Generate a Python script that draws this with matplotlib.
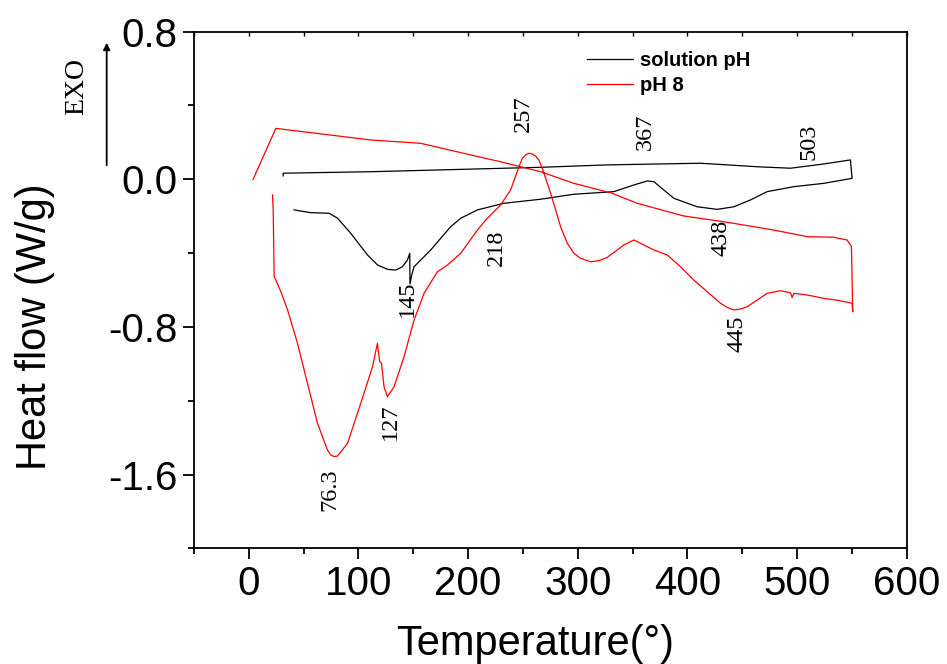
import matplotlib
matplotlib.use("Agg")
import matplotlib.pyplot as plt
from matplotlib.ticker import MultipleLocator

plt.rcParams['axes.unicode_minus'] = False

# ---- data ----
# solution pH (black): lower (heating) trace, then vertical at 550, then upper trace back
sol_T = [41.3, 56.5, 73.2, 80.9, 93.0, 108.2, 117.3, 126.4, 134.0, 140.1, 144.7, 146.8,
         147.0, 148.6, 150.7, 165.9, 184.1, 193.3, 208.5, 232.7, 266.2, 296.5, 333.0,
         351.2, 363.4, 369.5, 378.6, 387.7, 409.0, 427.3, 442.4, 457.6, 472.8, 497.1,
         524.4, 550.3, 548.8, 524.4, 494.1, 463.7, 412.0, 327.0, 266.2, 111.2, 31.3, 31.3]
sol_H = [-0.166, -0.181, -0.184, -0.211, -0.293, -0.410, -0.464, -0.488, -0.492, -0.474,
         -0.437, -0.401, -0.567, -0.519, -0.474, -0.383, -0.257, -0.211, -0.166, -0.130,
         -0.108, -0.081, -0.067, -0.031, -0.009, -0.013, -0.058, -0.103, -0.149, -0.163,
         -0.149, -0.112, -0.067, -0.040, -0.022, 0.005, 0.105, 0.083, 0.060, 0.068, 0.087,
         0.078, 0.065, 0.041, 0.033, 0.018]

# pH 8 (red): upper trace, vertical at 550, lower trace back to start
ph8_T = [3.9, 24.6, 111.2, 156.8, 202.4, 229.7, 266.2, 296.5, 330.0, 354.3, 396.8, 433.3,
         478.9, 509.3, 533.5, 545.8, 549.7, 550.9,
         550.3, 539.6, 524.4, 509.3, 497.1, 495.6, 494.1, 485.0, 472.8, 454.6, 448.5, 442.4,
         436.4, 430.3, 418.1, 405.9, 393.8, 381.7, 369.5, 363.4, 357.3, 351.2, 342.1, 327.0,
         319.4, 311.8, 302.6, 296.5, 290.5, 284.4, 279.9, 275.3, 269.2, 266.8, 264.6, 261.6,
         258.6, 255.5, 252.5, 249.5, 246.4, 238.8, 229.7, 217.6, 208.5, 193.3, 181.1, 172.0,
         159.8, 150.7, 141.6, 132.5, 126.4, 123.3, 121.0, 119.4, 117.3, 112.8, 102.1, 90.0,
         80.9, 77.8, 74.7, 71.7, 62.6, 53.5, 44.4, 35.3, 29.2, 24.6, 23.1, 22.2, 21.6]
ph8_H = [0.000, 0.276, 0.213, 0.195, 0.132, 0.095, 0.041, -0.022, -0.073, -0.130, -0.199,
         -0.230, -0.275, -0.311, -0.314, -0.329, -0.365, -0.718,
         -0.672, -0.658, -0.645, -0.627, -0.618, -0.640, -0.615, -0.604, -0.618, -0.691,
         -0.703, -0.708, -0.694, -0.672, -0.609, -0.546, -0.474, -0.410, -0.383, -0.365,
         -0.347, -0.329, -0.356, -0.423, -0.441, -0.447, -0.428, -0.401, -0.347, -0.257,
         -0.166, -0.076, 0.033, 0.072, 0.105, 0.126, 0.137, 0.141, 0.132, 0.114, 0.068,
         -0.058, -0.139, -0.211, -0.275, -0.401, -0.465, -0.501, -0.618, -0.763, -0.961,
         -1.124, -1.178, -1.124, -0.997, -0.989, -0.889, -1.016, -1.214, -1.431, -1.500,
         -1.503, -1.494, -1.467, -1.322, -1.106, -0.889, -0.708, -0.609, -0.546, -0.528,
         -0.166, -0.085]

# peak annotations: (text, x, y)
peak_labels = ["76.3", "127", "145", "218", "257", "367", "438", "445", "503"]
peak_x = [74.1, 128.8, 144.6, 226.1, 250.7, 361.9, 430.3, 445.5, 510.8]
peak_y = [-1.684, -1.314, -0.645, -0.374, 0.358, 0.258, -0.320, -0.835, 0.204]

x_ticks = [0, 100, 200, 300, 400, 500, 600]
y_ticks = [-1.6, -0.8, 0.0, 0.8]
y_tick_labels = ["-1.6", "-0.8", "0.0", "0.8"]

# ---- figure ----
fig = plt.figure(figsize=(9.47, 6.64), dpi=100)
ax = fig.add_axes([0.2049, 0.1742, 0.7524, 0.7781])

ax.plot(sol_T, sol_H, color="black", lw=0.9, label="solution pH")
ax.plot(ph8_T, ph8_H, color="red", lw=0.9, label="pH 8")

ax.set_xlim(-50, 600)
ax.set_ylim(-2.0, 0.8)

sans = "Liberation Sans"
serif = "Liberation Serif"

ax.set_xticks(x_ticks)
ax.set_xticklabels([str(t) for t in x_ticks], fontfamily=sans, fontsize=29)
ax.set_yticks(y_ticks)
ax.set_yticklabels(y_tick_labels, fontfamily=sans, fontsize=29)
ax.xaxis.set_minor_locator(MultipleLocator(50))
ax.yaxis.set_minor_locator(MultipleLocator(0.4))

ax.tick_params(which="major", direction="out", length=8, width=1.3, pad=4)
ax.tick_params(which="minor", direction="out", length=4, width=1.3)
for s in ax.spines.values():
    s.set_linewidth(1.3)

top = ax.secondary_xaxis("top")
top.set_xticks(list(range(-50, 601, 50)))
top.tick_params(direction="in", length=3, width=1.0, labeltop=False)
top.spines["top"].set_visible(False)

ax.set_xlabel("Temperature(°)", fontfamily=sans, fontsize=30)
ax.xaxis.set_label_coords(0.4785, -0.146)
ax.set_ylabel("Heat flow (W/g)", fontfamily=sans, fontsize=30)
ax.yaxis.set_label_coords(-0.195, 0.429)

for t, x, y in zip(peak_labels, peak_x, peak_y):
    ax.text(x, y, t, rotation=90, ha="center", va="center",
            fontfamily=serif, fontsize=17.5)

# EXO arrow (outside the axes, in figure coordinates)
fig.patches.append(matplotlib.patches.FancyArrowPatch(
    (106.7 / 947, 1 - 168 / 664), (106.7 / 947, 1 - 40 / 664),
    transform=fig.transFigure, arrowstyle="-|>", mutation_scale=10,
    color="black", lw=1.3))
fig.text(76.7 / 947, 1 - 86.7 / 664, "EXO", rotation=90, ha="center", va="center",
         fontfamily=serif, fontsize=20)

leg = ax.legend(loc="upper left", bbox_to_anchor=(0.5515, 0.9626), frameon=False,
                prop={"family": sans, "weight": "bold", "size": 14.5},
                handlelength=2.3, handletextpad=0.35, labelspacing=0.3,
                borderpad=0, borderaxespad=0)

fig.savefig("out.png", dpi=100)
